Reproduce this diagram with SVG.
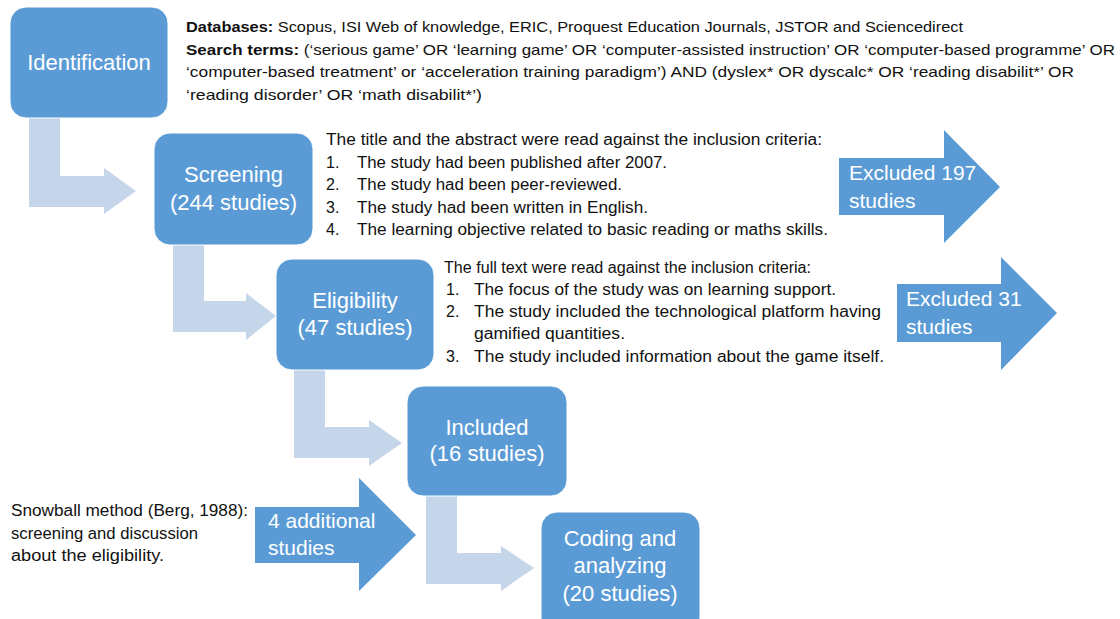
<svg xmlns="http://www.w3.org/2000/svg" width="1120" height="619" viewBox="0 0 1120 619">
<style>
.box{fill:#5B9BD5;stroke:#ffffff;stroke-width:1}
.flow{fill:#C5D5EA}
.dark{fill:#5B9BD5}
.wt{font-family:"Liberation Sans",Arial,sans-serif;font-size:22px;fill:#ffffff;text-anchor:middle}
.wl{font-family:"Liberation Sans",Arial,sans-serif;font-size:21px;fill:#ffffff}
.tx{font-family:"Liberation Sans",Arial,sans-serif;font-size:16px;fill:#111111}
.tt{font-family:"Liberation Sans",Arial,sans-serif;font-size:15px;fill:#111111}
.b{font-weight:bold}
</style>
<rect width="1120" height="619" fill="#ffffff"/>
<g id="connectors">
<polygon class="flow" points="29,117 60,117 60,176 104,176 104,168 136,191 104,214 104,207 29,207"/>
<polygon class="flow" points="173,245 204,245 204,301 246,301 246,293 276,316 246,340 246,332 173,332"/>
<polygon class="flow" points="294,370 325,370 325,427 369,427 369,420 402,443 369,466 369,458 294,458"/>
<polygon class="flow" points="426,496 457,496 457,553 501,553 501,546 534,568 501,591 501,584 426,584"/>
</g>
<g id="identification">
<rect class="box" x="10" y="7" width="158" height="111" rx="16"/>
<text class="wt" x="89" y="70">Identification</text>
</g>
<g id="search-info">
<text class="tt" x="186" y="32" textLength="777" lengthAdjust="spacingAndGlyphs"><tspan class="b">Databases:</tspan> Scopus, ISI Web of knowledge, ERIC, Proquest Education Journals, JSTOR and Sciencedirect</text>
<text class="tt" x="186" y="55" textLength="929" lengthAdjust="spacingAndGlyphs"><tspan class="b">Search terms:</tspan> (‘serious game’ OR ‘learning game’ OR ‘computer-assisted instruction’ OR ‘computer-based programme’ OR</text>
<text class="tt" x="186" y="77" textLength="888" lengthAdjust="spacingAndGlyphs">‘computer-based treatment’ or ‘acceleration training paradigm’) AND (dyslex* OR dyscalc* OR ‘reading disabilit*’ OR</text>
<text class="tt" x="186" y="100" textLength="296" lengthAdjust="spacingAndGlyphs">‘reading disorder’ OR ‘math disabilit*’)</text>
</g>
<g id="screening">
<rect class="box" x="154" y="133" width="159" height="112" rx="16"/>
<text class="wt" x="233.5" y="182">Screening</text>
<text class="wt" x="233.5" y="210">(244 studies)</text>
</g>
<g id="screening-criteria">
<text class="tx" x="326" y="145" textLength="496" lengthAdjust="spacingAndGlyphs">The title and the abstract were read against the inclusion criteria:</text>
<text class="tx" x="326" y="168">1.</text>
<text class="tx" x="357" y="168" textLength="310" lengthAdjust="spacingAndGlyphs">The study had been published after 2007.</text>
<text class="tx" x="326" y="190">2.</text>
<text class="tx" x="357" y="190" textLength="265" lengthAdjust="spacingAndGlyphs">The study had been peer-reviewed.</text>
<text class="tx" x="326" y="213">3.</text>
<text class="tx" x="357" y="213" textLength="291" lengthAdjust="spacingAndGlyphs">The study had been written in English.</text>
<text class="tx" x="326" y="235">4.</text>
<text class="tx" x="357" y="235" textLength="471" lengthAdjust="spacingAndGlyphs">The learning objective related to basic reading or maths skills.</text>
</g>
<g id="excluded-197">
<polygon class="dark" points="839,158 944,158 944,130 1000,187 944,243 944,215 839,215"/>
<text class="wl" x="849" y="180">Excluded 197</text>
<text class="wl" x="849" y="208">studies</text>
</g>
<g id="eligibility">
<rect class="box" x="276" y="259" width="158" height="111" rx="16"/>
<text class="wt" x="355" y="308">Eligibility</text>
<text class="wt" x="355" y="335">(47 studies)</text>
</g>
<g id="eligibility-criteria">
<text class="tx" x="444" y="273" textLength="367" lengthAdjust="spacingAndGlyphs">The full text were read against the inclusion criteria:</text>
<text class="tx" x="446" y="295">1.</text>
<text class="tx" x="474" y="295" textLength="362" lengthAdjust="spacingAndGlyphs">The focus of the study was on learning support.</text>
<text class="tx" x="446" y="317">2.</text>
<text class="tx" x="474" y="317" textLength="407" lengthAdjust="spacingAndGlyphs">The study included the technological platform having</text>
<text class="tx" x="474" y="339" textLength="151" lengthAdjust="spacingAndGlyphs">gamified quantities.</text>
<text class="tx" x="446" y="362">3.</text>
<text class="tx" x="474" y="362" textLength="410" lengthAdjust="spacingAndGlyphs">The study included information about the game itself.</text>
</g>
<g id="excluded-31">
<polygon class="dark" points="897,284 1001,284 1001,257 1057,313 1001,370 1001,342 897,342"/>
<text class="wl" x="906" y="306">Excluded 31</text>
<text class="wl" x="906" y="334">studies</text>
</g>
<g id="included">
<rect class="box" x="407" y="386" width="160" height="110" rx="16"/>
<text class="wt" x="487" y="435">Included</text>
<text class="wt" x="487" y="461">(16 studies)</text>
</g>
<g id="snowball">
<text class="tx" x="11" y="516" textLength="237" lengthAdjust="spacingAndGlyphs">Snowball method (Berg, 1988):</text>
<text class="tx" x="11" y="539" textLength="187" lengthAdjust="spacingAndGlyphs">screening and discussion</text>
<text class="tx" x="11" y="561" textLength="153" lengthAdjust="spacingAndGlyphs">about the eligibility.</text>
</g>
<g id="additional-4">
<polygon class="dark" points="255,507 359,507 359,478 416,535 359,591 359,563 255,563"/>
<text class="wl" x="268" y="528">4 additional</text>
<text class="wl" x="268" y="555">studies</text>
</g>
<g id="coding">
<rect class="box" x="541" y="512" width="159" height="122" rx="16"/>
<text class="wt" x="620" y="546">Coding and</text>
<text class="wt" x="620" y="573">analyzing</text>
<text class="wt" x="620" y="601">(20 studies)</text>
</g>
</svg>
